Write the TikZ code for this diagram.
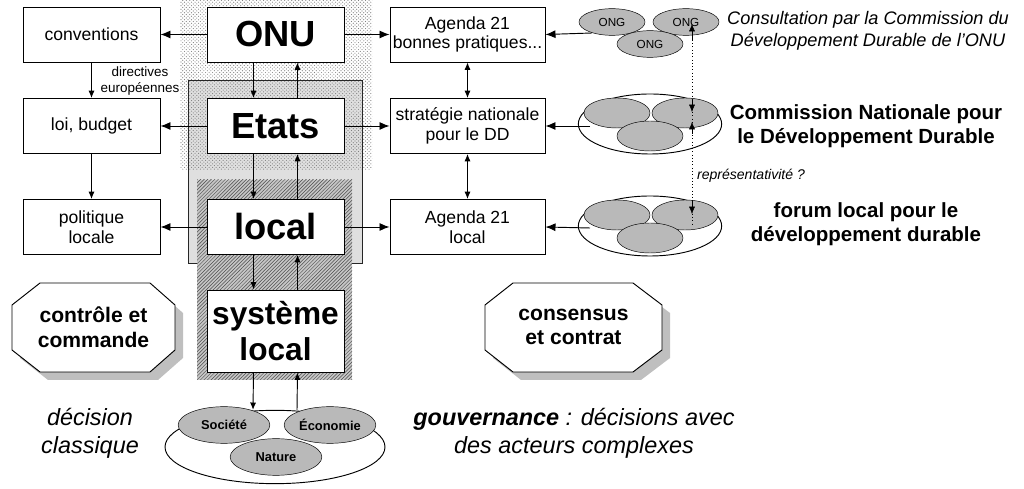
\documentclass[tikz,border=0pt]{standalone}
\usepackage{fontspec}
\setmainfont{Liberation Sans}
\usetikzlibrary{patterns,arrows.meta,shapes.geometric}

\tikzset{
  box/.style={draw, fill=white, thick, minimum width=4.11cm, minimum height=1.65cm, align=center, inner sep=1pt},
  small/.style={box, font=\fontsize{15}{17}\selectfont},
  big/.style={box, font=\bfseries\fontsize{31}{33}\selectfont},
  arr/.style={-{Latex[length=3mm,width=2.4mm]}, thick},
  arrs/.style={-{Latex[length=2.2mm,width=1.8mm]}},
  ong/.style={draw, ellipse, fill=gray!55, minimum width=1.98cm, minimum height=0.8cm, inner sep=0pt, font=\fontsize{10}{11}\selectfont},
  member/.style={ong, minimum height=0.9cm},
  title/.style={align=center, font=\fontsize{17.5}{20}\selectfont\bfseries},
  oct/.style={draw, thick, fill=white}
}

\begin{document}
\begin{tikzpicture}[x=0.03cm, y=-0.03cm]
\useasboundingbox (0,0) rectangle (1024,489);

% shaded levels
\fill[gray!25] (188,80) rectangle (362,263);
\fill[pattern=crosshatch dots, pattern color=gray] (180,0) rectangle (372,170);
\draw[thick, gray!30!black] (188,80) rectangle (362,263);
\fill[gray!45] (197,180) rectangle (352,380);
\fill[pattern=north east lines, pattern color=gray!60!black] (197,180) rectangle (352,380);

% central column
\node[big] (onu) at (275.5,34.5) {ONU};
\node[big] (etats) at (275.5,126) {Etats};
\node[big] (local) at (275.5,227) {local};
\node[big, minimum height=2.46cm, font=\bfseries\fontsize{27}{31}\selectfont] (sys) at (275.5,331) {système\\local};

% left column
\node[small] (conv) at (91.5,34.5) {conventions};
\node[small] (loi) at (91.5,126) {loi, budget};
\node[small] (pol) at (91.5,227) {politique\\locale};

% right column
\node[small, minimum width=4.65cm] (ag) at (467.5,34.5) {Agenda 21\\bonnes pratiques...};
\node[small, minimum width=4.65cm] (strat) at (467.5,126) {stratégie nationale\\pour le DD};
\node[small, minimum width=4.65cm] (agl) at (467.5,227) {Agenda 21\\local};

\foreach \c/\l/\r in {onu/conv/ag, etats/loi/strat, local/pol/agl}{
  \draw[arr] (\c.west) -- (\l.east);
  \draw[arr] (\c.east) -- (\r.west);
}
\foreach \a/\b in {onu/etats, etats/local, local/sys}{
  \draw[arrs, thick] ([xshift=-0.66cm]\a.south) -- ([xshift=-0.66cm]\b.north);
  \draw[arrs, thick] ([xshift=0.66cm]\b.north) -- ([xshift=0.66cm]\a.south);
}
\draw[arrs, thick] (conv) -- (loi);
\draw[arrs, thick] (loi) -- (pol);
\node[font=\fontsize{11.5}{13}\selectfont, align=center] (dir) at (140,81) {directives\\européennes};
\draw[{Latex[length=2.2mm,width=1.8mm]}-{Latex[length=2.2mm,width=1.8mm]}, thick] (ag) -- (strat);
\draw[{Latex[length=2.2mm,width=1.8mm]}-{Latex[length=2.2mm,width=1.8mm]}, thick] (strat) -- (agl);

% ONG
\node[ong] (ong1) at (612,22) {ONG};
\node[ong] (ong2) at (686,22) {ONG};
\node[ong] (ong3) at (650,44) {ONG};
\coordinate (ongout) at (592,33);
\draw[arr] (ongout) -- (ag.east);

% commission
\node[draw, thick, ellipse, minimum width=4.3cm, minimum height=1.8cm] (cnd) at (650,124) {};
\node[member] (c1) at (617,113) {};
\node[member] (c2) at (685,113) {};
\node[member] (c3) at (650,136) {};
\coordinate (cndout) at (590,126);
\draw[arr] (cndout) -- (strat.east);

% forum
\node[draw, thick, ellipse, minimum width=4.3cm, minimum height=1.8cm] (fld) at (650,226) {};
\node[member] (f1) at (617,215) {};
\node[member] (f2) at (685,215) {};
\node[member] (f3) at (650,238) {};
\coordinate (fldout) at (590,228);
\draw[arr] (fldout) -- (agl.east);

% representativite
\coordinate (d0) at (692,24);
\coordinate (d1) at (692,112);
\coordinate (d2) at (692,122);
\coordinate (d3) at (692,214);
\draw[dotted, thick] (692,30) -- (692,225);
\draw[arrs] (692,40) -- (d0);
\draw[arrs] (692,100) -- (d1);
\draw[arrs] (692,134) -- (d2);
\draw[arrs] (692,200) -- (d3);
\node[font=\itshape\fontsize{12}{14}\selectfont] (rep) at (751,176) {représentativité ?};

\node[font=\itshape\fontsize{15.5}{19}\selectfont, align=center] (cons) at (868,31) {Consultation par la Commission du\\Développement Durable de l’ONU};
\node[title] (cndt) at (866,126) {Commission Nationale pour\\le Développement Durable};
\node[title] (fldt) at (866,224) {forum local pour le\\développement durable};

% octagons
\fill[gray!50] (48,291) -- (158,291) -- (183,313) -- (183,358) -- (158,380) -- (48,380) -- (20,358) -- (20,313) -- cycle;
\draw[oct] (40,283) -- (150,283) -- (175,305) -- (175,350) -- (150,372) -- (40,372) -- (12,350) -- (12,305) -- cycle;
\node[title, font=\fontsize{18}{21}\selectfont\bfseries] (cc) at (93.5,327) {contrôle et\\commande};
\fill[gray!50] (521,291) -- (641,291) -- (670,313) -- (670,358) -- (641,380) -- (521,380) -- (493,358) -- (493,313) -- cycle;
\draw[oct] (513,283) -- (633,283) -- (662,305) -- (662,350) -- (633,372) -- (513,372) -- (485,350) -- (485,305) -- cycle;
\node[title, font=\fontsize{18}{21}\selectfont\bfseries] (ct) at (573.5,327) {consensus\\et contrat};

% systeme local
\node[draw, thick, ellipse, minimum width=6.6cm, minimum height=2.2cm] (env) at (275,447) {};
\node[ong, minimum width=2.75cm, minimum height=1.1cm, font=\bfseries\fontsize{11}{13}\selectfont] (soc) at (224,425) {Société};
\node[ong, minimum width=2.75cm, minimum height=1.1cm, font=\bfseries\fontsize{11}{13}\selectfont] (eco) at (330,425) {Économie};
\node[ong, minimum width=2.75cm, minimum height=1.1cm, font=\bfseries\fontsize{11}{13}\selectfont] (nat) at (276,457) {Nature};
\draw[arrs, thick] ([xshift=-0.66cm]sys.south) -- ([xshift=-0.66cm]env.north);
\draw[arrs, thick] ([xshift=0.66cm]env.north) -- ([xshift=0.66cm]sys.south);

\node[font=\itshape\fontsize{20}{24}\selectfont, align=center] (dc) at (90,433) {décision\\classique};
\node[font=\itshape\fontsize{20}{24}\selectfont, align=center] (gov) at (574,433) {\textbf{gouvernance} : décisions avec\\des acteurs complexes};
\end{tikzpicture}
\end{document}
